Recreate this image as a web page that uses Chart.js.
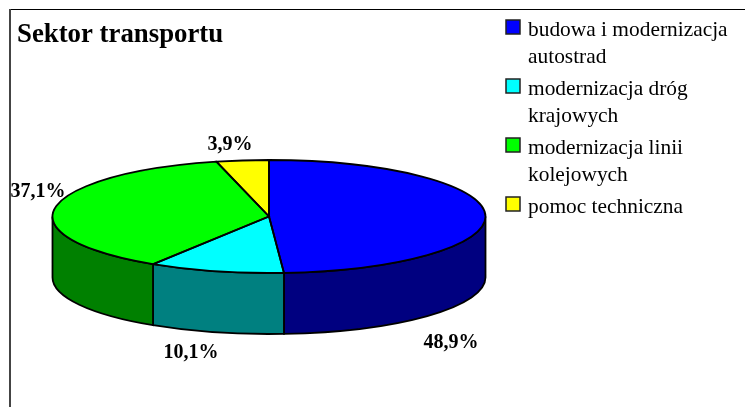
<!DOCTYPE html>
<html>
<head>
<meta charset="utf-8">
<style>
  html, body { margin: 0; padding: 0; background: #fff; }
  canvas { display: block; }
</style>
<script src="https://cdn.jsdelivr.net/npm/chart.js@4/dist/chart.umd.min.js"></script>
</head>
<body>
<canvas id="myChart" width="745" height="407"></canvas>
<script>
const chartTitle = 'Sektor transportu';
const categories = [
    ['budowa i modernizacja', 'autostrad'],
    ['modernizacja dróg', 'krajowych'],
    ['modernizacja linii', 'kolejowych'],
    ['pomoc techniczna'],
];
const values = [48.9, 10.1, 37.1, 3.9];
const topColors = ['#0000ff', '#00ffff', '#00ff00', '#ffff00'];
const sideColors = ['#000080', '#008080', '#008000', '#808000'];

// look of the tilted pie
const tilt = 0.261;
const depth = 61;
const outline = 1.8;
const serif = '"Liberation Serif", "Times New Roman", serif';

// where Excel had put the percent labels (text centre)
const labelSpots = [[451, 343], [191, 353], [38, 192], [230, 145]];

function ellipsePoint(arc, angle) {
    return [arc.x + arc.outerRadius * Math.cos(angle), arc.y + arc.outerRadius * tilt * Math.sin(angle)];
}

const pie3d = {
    id: 'pie3d',
    beforeDatasetDraw(chart, args) {
        const ctx = chart.ctx;
        const arcs = args.meta.data;
        // walls first, only the front half of the cylinder shows
        arcs.forEach((arc, i) => {
            const a = Math.max(arc.startAngle, 0);
            const b = Math.min(arc.endAngle, Math.PI);
            if (b <= a) return;
            const r = arc.outerRadius;
            ctx.beginPath();
            ctx.ellipse(arc.x, arc.y, r, r * tilt, 0, a, b);
            ctx.lineTo(ellipsePoint(arc, b)[0], ellipsePoint(arc, b)[1] + depth);
            ctx.ellipse(arc.x, arc.y + depth, r, r * tilt, 0, b, a, true);
            ctx.closePath();
            ctx.fillStyle = sideColors[i];
            ctx.fill();
            ctx.lineWidth = outline;
            ctx.strokeStyle = '#000';
            ctx.stroke();
        });
        const first = arcs[0];
        ctx.save();
        ctx.translate(first.x, first.y);
        ctx.scale(1, tilt);
        ctx.translate(-first.x, -first.y);
    },
    afterDatasetDraw(chart, args) {
        const ctx = chart.ctx;
        ctx.restore();
        // outline after the restore so the line is not squashed too
        ctx.lineWidth = outline;
        ctx.strokeStyle = '#000';
        args.meta.data.forEach((arc) => {
            const r = arc.outerRadius;
            ctx.beginPath();
            ctx.moveTo(arc.x, arc.y);
            ctx.ellipse(arc.x, arc.y, r, r * tilt, 0, arc.startAngle, arc.endAngle);
            ctx.closePath();
            ctx.stroke();
        });
    },
    afterDraw(chart) {
        const ctx = chart.ctx;
        ctx.save();

        // frame, only top and left are in the picture
        ctx.fillStyle = '#000';
        ctx.fillRect(10, 9, 735, 1);
        ctx.fillStyle = '#444';
        ctx.fillRect(9, 9, 2, 398);

        ctx.fillStyle = '#000';
        ctx.textBaseline = 'alphabetic';
        ctx.textAlign = 'left';
        ctx.font = 'bold 26.8px ' + serif;
        ctx.fillText(chartTitle, 17, 42);

        // percent labels
        ctx.font = 'bold 20px ' + serif;
        ctx.textAlign = 'center';
        ctx.textBaseline = 'middle';
        values.forEach((v, i) => {
            ctx.fillText(v.toFixed(1).replace('.', ',') + '%', labelSpots[i][0], labelSpots[i][1]);
        });

        // legend
        ctx.font = '21.4px ' + serif;
        ctx.textAlign = 'left';
        ctx.textBaseline = 'alphabetic';
        let y = 36;
        categories.forEach((lines, i) => {
            ctx.fillStyle = topColors[i];
            ctx.fillRect(506, y - 16, 14, 14);
            ctx.strokeStyle = '#222';
            ctx.lineWidth = 1.5;
            ctx.strokeRect(506, y - 16, 14, 14);
            ctx.fillStyle = '#000';
            lines.forEach((line, j) => {
                ctx.fillText(line, 528, y + j * 27);
            });
            y += lines.length * 27 + 5;
        });
        ctx.restore();
    },
};

const ctx = document.getElementById('myChart').getContext('2d');
const myChart = new Chart(ctx, {
    type: 'pie',
    data: {
        labels: categories,
        datasets: [{
            data: values,
            backgroundColor: topColors,
            borderWidth: 0,
            clip: false,
            radius: 216.5,
        }],
    },
    options: {
        responsive: false,
        animation: false,
        layout: { padding: { left: 0, right: 207, top: 26, bottom: 0 } },
        plugins: {
            legend: { display: false },
            title: { display: false },
            tooltip: { enabled: false },
        },
    },
    plugins: [pie3d],
});
</script>
</body>
</html>
